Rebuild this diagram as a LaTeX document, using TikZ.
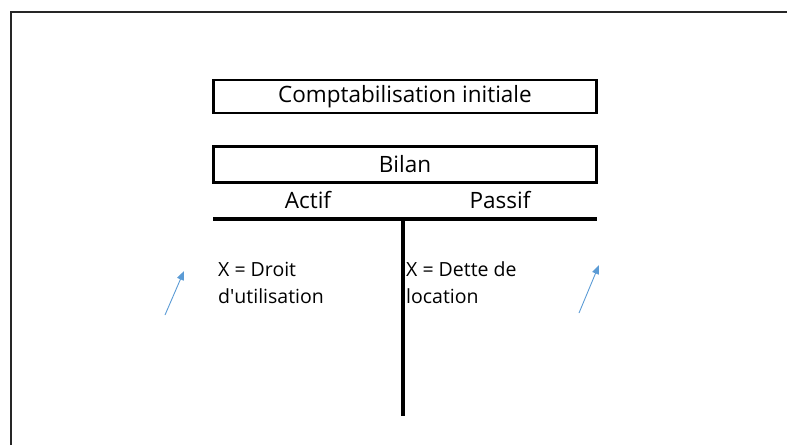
\documentclass[tikz,border=0pt]{standalone}
\usepackage{fontspec}
\setmainfont{Open Sans}
\usetikzlibrary{arrows.meta}
\definecolor{arrowblue}{HTML}{5B9BD5}
\tikzset{
  titlebox/.style={draw=black, line width=2.6pt, minimum width=383pt, inner sep=0pt, font=\fontsize{22.5}{26}\selectfont},
  colhead/.style={font=\fontsize{22.5}{26}\selectfont, inner sep=0pt},
  entry/.style={font=\fontsize{19.5}{27}\selectfont, inner sep=0pt, align=left, anchor=north west},
  rule/.style={line width=3.6pt},
  growth/.style={draw=arrowblue, line width=0.9pt, -{Triangle[length=9pt,width=7pt]}}
}
\begin{document}
\begin{tikzpicture}[x=1pt,y=-1pt]
  \useasboundingbox (0,0) rectangle (787,445);
  % page frame, only its top and left edges are in view
  \draw[line width=1.4pt, draw=black!85] (11,445) -- (11,12) -- (787,12);

  \node[titlebox, minimum height=33pt] (title) at (405,96.5) {Comptabilisation initiale};
  \node[titlebox, minimum height=36pt] (bilan) at (405,164.5) {Bilan};

  \node[colhead] (actif) at (308,200) {Actif};
  \node[colhead] (passif) at (500,200) {Passif};

  % T-account
  \coordinate (tl) at (213,219);
  \coordinate (tr) at (597,219);
  \coordinate (ttop) at (403,219);
  \coordinate (tbot) at (403,416);
  \draw[rule] (tl) -- (tr);
  \draw[rule, line cap=butt] (ttop) -- (tbot);

  \node[entry] (droit) at (218,262) {X = Droit\\d\textquotesingle utilisation};
  \node[entry] (dette) at (406,261.5) {X = Dette de\\location};

  % increase arrows
  \coordinate (a1s) at (165,315);
  \coordinate (a1e) at (184,271);
  \coordinate (a2s) at (579,313);
  \coordinate (a2e) at (599,265);
  \draw[growth] (a1s) -- (a1e);
  \draw[growth] (a2s) -- (a2e);
\end{tikzpicture}
\end{document}
